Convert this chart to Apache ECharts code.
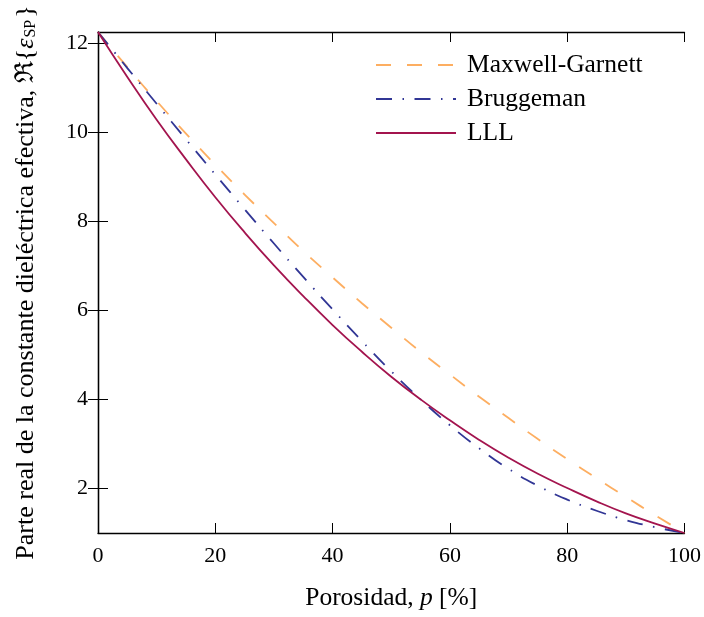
<!DOCTYPE html>
<html>
<head>
<meta charset="utf-8">
<script src="https://cdn.jsdelivr.net/npm/echarts@6/dist/echarts.min.js"></script>
<style>
html,body{margin:0;padding:0;background:#fff;}
#chart{width:704px;height:617px;}
</style>
</head>
<body>
<div id="chart"></div>
<script>
// Porosity p [%]
const porosity = [0,5,10,15,20,25,30,35,40,45,50,55,60,65,70,75,80,85,90,95,100];
// Real part of effective dielectric constant
const maxwellGarnett = [12.25,11.46,10.70,9.97,9.27,8.60,7.96,7.33,6.74,6.16,5.61,5.07,4.56,4.06,3.58,3.11,2.66,2.23,1.81,1.40,1.00];
const bruggeman      = [12.25,11.44,10.64,9.84,9.05,8.27,7.50,6.75,6.02,5.31,4.63,4.00,3.42,2.90,2.44,2.06,1.75,1.50,1.29,1.13,1.00];
const lll            = [12.25,11.24,10.28,9.39,8.54,7.75,7.01,6.32,5.67,5.07,4.51,4.00,3.53,3.09,2.69,2.33,2.01,1.71,1.44,1.21,1.00];
const seriesNames = ['Maxwell-Garnett','Bruggeman','LLL'];
const xTicks = [0,20,40,60,80,100];
const yTicks = [2,4,6,8,10,12];

const pairs = arr => porosity.map((p,i)=>[p,arr[i]]);
const FONT = '"Liberation Serif", "DejaVu Serif", serif';
const NS = 25.5; // name/legend font size
const axisLineStyle = {color:'#000', width:1.3};

const chart = echarts.init(document.getElementById('chart'), null, {renderer:'canvas'});
chart.setOption({
  animation:false,
  backgroundColor:'#fff',
  textStyle:{fontFamily:FONT, color:'#000'},
  grid:{left:98, right:19, top:32, bottom:84, containLabel:false},
  legend:{
    orient:'vertical', left:370, top:47,
    itemWidth:80, itemHeight:14, itemGap:8,
    itemStyle:{opacity:0},
    textStyle:{fontFamily:FONT, fontSize:NS, color:'#000', padding:[0,0,0,6]},
    data:seriesNames
  },
  xAxis:[{
    type:'value', min:0, max:100, interval:20, position:'bottom',
    axisLine:{show:true, lineStyle:axisLineStyle},
    axisTick:{show:true, inside:true, length:10, lineStyle:{color:'#000', width:1}},
    axisLabel:{fontFamily:FONT, fontSize:22, color:'#000', margin:12},
    splitLine:{show:false},
    name:'{n|Porosidad, }{i|p}{n| [%]}',
    nameLocation:'middle', nameGap:52,
    nameTextStyle:{fontFamily:FONT, fontSize:NS, color:'#000', rich:{
      n:{fontFamily:FONT, fontSize:NS, color:'#000'},
      i:{fontFamily:FONT, fontSize:NS, fontStyle:'italic', color:'#000'}
    }}
  },{
    type:'value', min:0, max:100, interval:20, position:'top',
    axisLine:{show:true, lineStyle:axisLineStyle},
    axisTick:{show:true, inside:true, length:10, lineStyle:{color:'#000', width:1}},
    axisLabel:{show:false}, splitLine:{show:false}
  }],
  yAxis:[{
    type:'value', min:1, max:12.25, position:'left',
    axisLine:{show:true, lineStyle:axisLineStyle},
    axisTick:{show:true, inside:true, length:10, lineStyle:{color:'#000', width:1}, customValues:yTicks},
    axisLabel:{fontFamily:FONT, fontSize:22, color:'#000', margin:10, customValues:yTicks},
    splitLine:{show:false},
    name:'Parte real de la constante dieléctrica efectiva, ℜ{{i|ε}{s|SP}}',
    nameLocation:'middle', nameGap:59, nameRotate:90,
    nameTextStyle:{fontFamily:FONT, fontSize:26, color:'#000', rich:{
      i:{fontFamily:FONT, fontSize:26, fontStyle:'italic', color:'#000'},
      s:{fontFamily:FONT, fontSize:16, color:'#000', verticalAlign:'bottom', padding:[0,2,0,1]}
    }}
  },{
    type:'value', min:1, max:12.25, position:'right',
    axisLine:{show:true, lineStyle:axisLineStyle},
    axisTick:{show:true, inside:true, length:10, lineStyle:{color:'#000', width:1}, customValues:yTicks},
    axisLabel:{show:false}, splitLine:{show:false}
  }],
  series:[
    {name:seriesNames[0], type:'line', data:pairs(maxwellGarnett), symbol:'none', smooth:true,
     lineStyle:{color:'#FDAE61', width:1.8, type:[15,16]}, itemStyle:{color:'#FDAE61'}},
    {name:seriesNames[1], type:'line', data:pairs(bruggeman), symbol:'none', smooth:true,
     lineStyle:{color:'#313695', width:1.8, type:[16,10.5,1.5,10.5]}, itemStyle:{color:'#313695'}},
    {name:seriesNames[2], type:'line', data:pairs(lll), symbol:'none', smooth:true,
     lineStyle:{color:'#A3144E', width:1.8}, itemStyle:{color:'#A3144E'}}
  ]
});
</script>
</body>
</html>
